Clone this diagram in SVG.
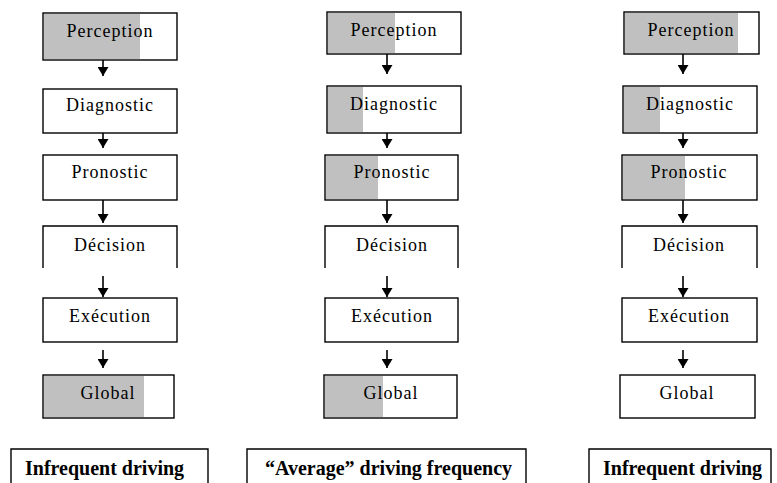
<svg xmlns="http://www.w3.org/2000/svg" width="777" height="483" viewBox="0 0 777 483">
<style>
.box{fill:#fff;stroke:#000;stroke-width:1.4}
.fill{fill:#c0c0c0}
.open{fill:none;stroke:#000;stroke-width:1.4}
.t{font-family:"Liberation Serif","Times New Roman",serif;font-size:18px;letter-spacing:1px;fill:#000;text-anchor:middle}
.lab{font-family:"Liberation Serif","Times New Roman",serif;font-size:20px;font-weight:bold;fill:#000}
.c{stroke:#000;stroke-width:1.6;fill:none;marker-end:url(#ah)}
</style>
<defs>
<marker id="ah" markerUnits="userSpaceOnUse" markerWidth="9" markerHeight="11" refX="9" refY="5.5" orient="auto" viewBox="0 0 9 11">
<path d="M0,0 L9,5.5 L0,11 Z" fill="#000"/>
</marker>
</defs>
<rect width="777" height="483" fill="#fff"/>

<!-- Column 1 -->
<g id="c1-perception"><rect class="box" x="43" y="13" width="134" height="47"/><rect class="fill" x="44" y="14" width="96" height="45"/><text class="t" x="110" y="37">Perception</text></g>
<g id="c1-diagnostic"><rect class="box" x="43" y="89" width="134" height="44"/><text class="t" x="110" y="111">Diagnostic</text></g>
<g id="c1-pronostic"><rect class="box" x="43" y="155" width="134" height="45"/><text class="t" x="110" y="178">Pronostic</text></g>
<g id="c1-decision"><path class="open" d="M43,268 V226 H177 V268"/><text class="t" x="110" y="251">Décision</text></g>
<g id="c1-execution"><rect class="box" x="43" y="298" width="134" height="44"/><text class="t" x="110" y="322">Exécution</text></g>
<g id="c1-global"><rect class="box" x="43" y="375" width="131" height="43"/><rect class="fill" x="44" y="376" width="100" height="41"/><text class="t" x="108" y="399">Global</text></g>

<!-- Column 2 -->
<g id="c2-perception"><rect class="box" x="327" y="12" width="134" height="42"/><rect class="fill" x="328" y="13" width="67" height="40"/><text class="t" x="394" y="36">Perception</text></g>
<g id="c2-diagnostic"><rect class="box" x="327" y="86" width="134" height="47"/><rect class="fill" x="328" y="87" width="35" height="45"/><text class="t" x="394" y="110">Diagnostic</text></g>
<g id="c2-pronostic"><rect class="box" x="325" y="155" width="133" height="45"/><rect class="fill" x="326" y="156" width="52" height="43"/><text class="t" x="392" y="178">Pronostic</text></g>
<g id="c2-decision"><path class="open" d="M325,268 V226 H458 V268"/><text class="t" x="392" y="251">Décision</text></g>
<g id="c2-execution"><rect class="box" x="325" y="298" width="133" height="44"/><text class="t" x="392" y="322">Exécution</text></g>
<g id="c2-global"><rect class="box" x="324" y="375" width="133" height="43"/><rect class="fill" x="325" y="376" width="58" height="41"/><text class="t" x="391" y="399">Global</text></g>

<!-- Column 3 -->
<g id="c3-perception"><rect class="box" x="624" y="12" width="135" height="42"/><rect class="fill" x="625" y="13" width="113" height="40"/><text class="t" x="691" y="36">Perception</text></g>
<g id="c3-diagnostic"><rect class="box" x="623" y="86" width="134" height="47"/><rect class="fill" x="624" y="87" width="36" height="45"/><text class="t" x="690" y="110">Diagnostic</text></g>
<g id="c3-pronostic"><rect class="box" x="622" y="155" width="135" height="45"/><rect class="fill" x="623" y="156" width="62" height="43"/><text class="t" x="689" y="178">Pronostic</text></g>
<g id="c3-decision"><path class="open" d="M622,268 V226 H757 V268"/><text class="t" x="689" y="251">Décision</text></g>
<g id="c3-execution"><rect class="box" x="622" y="298" width="135" height="44"/><text class="t" x="689" y="322">Exécution</text></g>
<g id="c3-global"><rect class="box" x="620" y="375" width="135" height="43"/><text class="t" x="687" y="399">Global</text></g>

<!-- Labels -->
<g id="label1"><path class="open" d="M11,483 V449 H208 V483"/><text class="lab" x="25" y="475">Infrequent driving</text></g>
<g id="label2"><path class="open" d="M247,483 V449 H526 V483"/><text class="lab" x="265" y="475">“Average” driving frequency</text></g>
<g id="label3"><path class="open" d="M589,483 V449 H771 V483"/><text class="lab" x="603" y="475">Infrequent driving</text></g>

<!-- Connectors -->
<g id="connectors">
<line class="c" x1="103" y1="60" x2="103" y2="76"/>
<line class="c" x1="103" y1="133" x2="103" y2="148"/>
<line class="c" x1="103" y1="200" x2="103" y2="223"/>
<line class="c" x1="103" y1="276" x2="103" y2="297"/>
<line class="c" x1="103" y1="350" x2="103" y2="368"/>
<line class="c" x1="387" y1="54" x2="387" y2="74"/>
<line class="c" x1="387" y1="133" x2="387" y2="148"/>
<line class="c" x1="387" y1="200" x2="387" y2="223"/>
<line class="c" x1="387" y1="276" x2="387" y2="297"/>
<line class="c" x1="387" y1="350" x2="387" y2="368"/>
<line class="c" x1="683" y1="54" x2="683" y2="74"/>
<line class="c" x1="683" y1="133" x2="683" y2="148"/>
<line class="c" x1="683" y1="200" x2="683" y2="223"/>
<line class="c" x1="683" y1="276" x2="683" y2="297"/>
<line class="c" x1="683" y1="350" x2="683" y2="368"/>
</g>
</svg>
